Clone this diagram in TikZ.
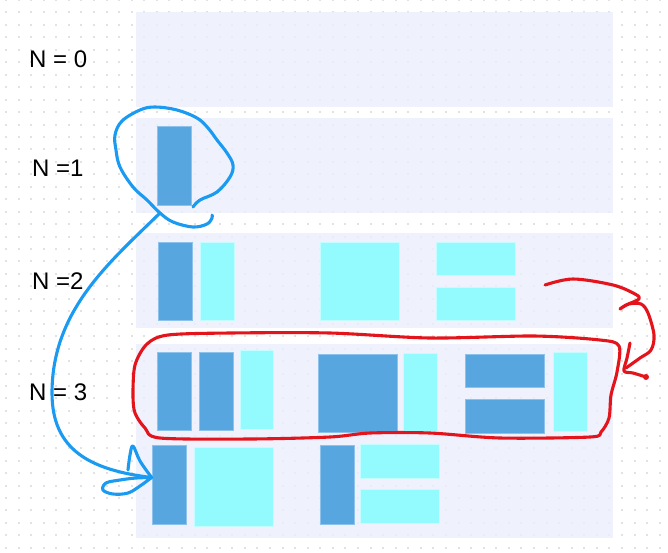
\documentclass[tikz,border=0pt]{standalone}
\usepackage{fontspec}
\setmainfont{Liberation Sans}
\definecolor{panel}{HTML}{EBEFFC}
\definecolor{dotc}{HTML}{E2E2E2}
\definecolor{darkb}{HTML}{57A6E0}
\definecolor{darkbd}{HTML}{8CC2EC}
\definecolor{cyanb}{HTML}{93FAFE}
\definecolor{cyanbd}{HTML}{C4FCFF}
\definecolor{penblue}{HTML}{1B9AF1}
\definecolor{penred}{HTML}{E3141B}
\tikzset{
 panelbox/.style={fill=panel, fill opacity=0.8, draw=none},
 darkbar/.style={rectangle, inner sep=0pt, fill=darkb, draw=darkbd, line width=0.8pt},
 cyanbar/.style={rectangle, inner sep=0pt, fill=cyanb, draw=cyanbd, line width=0.8pt},
 tall/.style={minimum width=34pt, minimum height=78pt},
 sq/.style={minimum width=79pt, minimum height=78pt},
 flat/.style={minimum width=79pt, minimum height=33pt},
 lbl/.style={anchor=west, inner sep=0pt, font=\fontsize{24}{27}\selectfont},
 bluepen/.style={draw=penblue, line width=3.1pt, line cap=round, line join=round},
 redpen/.style={draw=penred, line width=3.1pt, line cap=round, line join=round},
}
\begin{document}
\begin{tikzpicture}[x=1pt,y=-1pt]
\useasboundingbox (0,0) rectangle (668,552);
\fill[white] (0,0) rectangle (668,552);
% dot grid
\foreach \i in {0,...,53} {
  \foreach \j in {0,...,44} {
    \fill[dotc] ({5+12.57*\i},{-1+12.45*\j}) rectangle +(2,2);
  }
}
% panels
\fill[panelbox] (136,12) rectangle (613,107);
\fill[panelbox] (136,118) rectangle (613,213);
\fill[panelbox] (136,233) rectangle (613,328);
\fill[panelbox] (136,344) rectangle (613,538);
% labels
\node[lbl] (l0) at (29,59) {N = 0};
\node[lbl] (l1) at (32,168) {N =1};
\node[lbl] (l2) at (32,281) {N =2};
\node[lbl] (l3) at (29,392) {N = 3};
% row 1
\node[darkbar, minimum width=34pt, minimum height=79pt] (r1a) at (174,165.5) {};
% row 2
\node[darkbar, tall] (r2a) at (175,281) {};
\node[cyanbar, tall] (r2b) at (217,281) {};
\node[cyanbar, sq] (r2c) at (359.5,281) {};
\node[cyanbar, flat] (r2d) at (475.5,258.5) {};
\node[cyanbar, flat] (r2e) at (475.5,303.5) {};
% row 3
\node[darkbar, tall] (r3a) at (174,391) {};
\node[darkbar, tall] (r3b) at (216,391) {};
\node[cyanbar, minimum width=33pt, minimum height=79pt] (r3c) at (256.5,389.5) {};
\node[darkbar, sq] (r3d) at (357.5,393) {};
\node[cyanbar, tall] (r3e) at (420,392) {};
\node[darkbar, flat] (r3f) at (504.5,370.5) {};
\node[darkbar, minimum width=79pt, minimum height=34pt] (r3g) at (504.5,416) {};
\node[cyanbar, minimum width=34pt, minimum height=79pt] (r3h) at (570,391.5) {};
% row 4
\node[darkbar, minimum width=34pt, minimum height=79pt] (r4a) at (169,484.5) {};
\node[cyanbar, minimum width=79pt, minimum height=79pt] (r4b) at (233.5,486.5) {};
\node[darkbar, minimum width=34pt, minimum height=79pt] (r4c) at (337,484.5) {};
\node[cyanbar, minimum width=79pt, minimum height=34pt] (r4d) at (399.5,461) {};
\node[cyanbar, minimum width=79pt, minimum height=34pt] (r4e) at (399.5,506) {};
% blue loop around N=1 block
\draw[bluepen] plot[smooth, tension=0.6] coordinates {
 (193,207) (200,200) (217,192) (230,177) (233,165) (227,153) (217,140) (208,128)
 (197,118) (177,110) (155,107) (140,110) (122,121) (115,135) (116,150) (120,167) (133,187)
 (147,200) (160,213) (173,222) (193,227) (207,224) (212,218) (212,215)};
\coordinate (c1) at (160,213);
\coordinate (tipb) at ([yshift=7pt]r4a.west);
\draw[bluepen] (c1) .. controls (110,262) and (52,310) .. (52,393)
  .. controls (52,450) and (90,470) .. (tipb);
\draw[bluepen] plot[smooth, tension=0.6] coordinates {
 (128,470) (130,455) (133,446) (140,461) (tipb)};
\draw[bluepen] plot[smooth, tension=0.6] coordinates {
 (tipb) (140,486) (128,493) (113,494) (103,490) (106,483) (120,480) (136,478) (tipb)};
% red loop around N=3 row
\draw[redpen] plot[smooth cycle, tension=0.5] coordinates {
 (133,395) (135,365) (147,344) (168,335) (230,333) (330,333) (430,338) (534,336)
 (600,340) (619,346) (617,372) (611,395) (609,418) (601,432) (590,437) (500,438)
 (430,433) (370,433) (330,437) (250,439) (160,438) (145,428) (135,413)};
% red arrow
\draw[redpen] plot[smooth, tension=0.55] coordinates {
 (545,285) (573,279) (613,285) (635,294) (639,299) (626,305) (620,309) (629,304)
 (641,304) (648,313) (654,335) (651,350) (640,358) (626,368)};
\draw[redpen] plot[smooth, tension=0.5] coordinates {
 (630,343) (627,358) (624,371) (633,373) (646,377)};
\fill[penred] (646,377) circle (3);
\end{tikzpicture}
\end{document}
